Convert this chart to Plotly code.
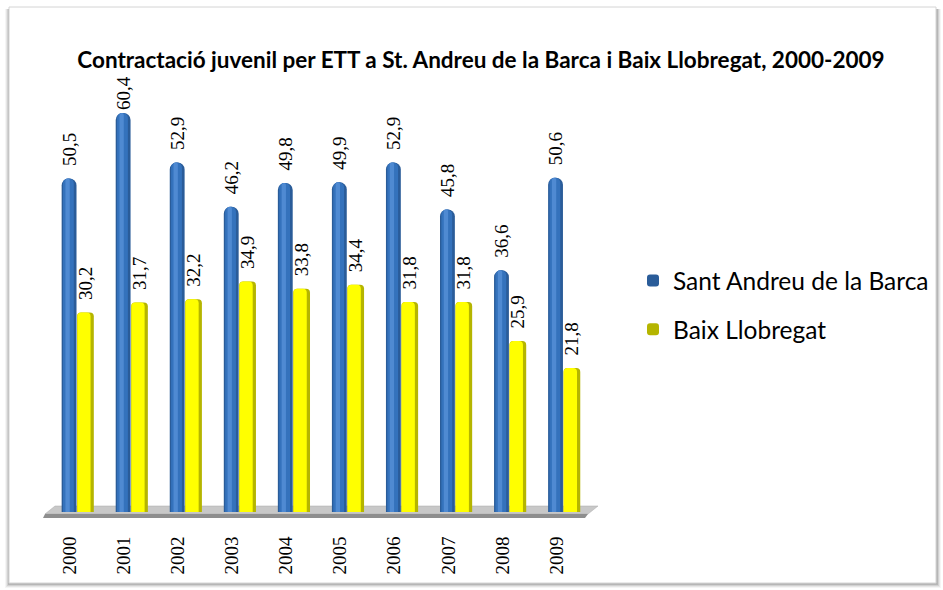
import plotly.graph_objects as go

W, H = 943, 590

years = ["2000", "2001", "2002", "2003", "2004", "2005", "2006", "2007", "2008", "2009"]
sant_andreu = [50.5, 60.4, 52.9, 46.2, 49.8, 49.9, 52.9, 45.8, 36.6, 50.6]
baix_llobregat = [30.2, 31.7, 32.2, 34.9, 33.8, 34.4, 31.8, 31.8, 25.9, 21.8]

title_text = "Contractació juvenil per ETT a St. Andreu de la Barca i Baix Llobregat, 2000-2009"
series_names = ["Sant Andreu de la Barca", "Baix Llobregat"]


def fx(p):
    return p / W


def fy(p):
    return 1 - p / H


def fmt(v, top=58):
    # labels of very tall bars sit closer to the bar so they stay clear of the title
    pad = "" if v > top else "\u00a0\u00a0"
    return pad + f"{v:.1f}".replace(".", ",")


xpos = list(range(len(years)))

fig = go.Figure()

label_font = dict(family="Liberation Serif", size=19, color="black")

# Blue cylinders (base + shading layers)
fig.add_trace(go.Bar(
    x=xpos, y=sant_andreu, name=series_names[0], legendgroup="a",
    offset=-0.155, width=0.275,
    marker=dict(color="#2A5C99", cornerradius="50%", line=dict(width=0)),
    text=[fmt(v) for v in sant_andreu], textposition="outside", textangle=-90,
    textfont=label_font, constraintext="none", cliponaxis=False,
    hoverinfo="skip",
))
fig.add_trace(go.Bar(
    x=xpos, y=sant_andreu, showlegend=False, legendgroup="a",
    offset=-0.13, width=0.2,
    marker=dict(color="#3472BC", cornerradius="50%", line=dict(width=0)),
    hoverinfo="skip",
))
fig.add_trace(go.Bar(
    x=xpos, y=sant_andreu, showlegend=False, legendgroup="a",
    offset=-0.085, width=0.08,
    marker=dict(color="#4F8AD2", cornerradius="50%", line=dict(width=0)),
    hoverinfo="skip",
))

# Yellow cylinders
fig.add_trace(go.Bar(
    x=xpos, y=baix_llobregat, name=series_names[1], legendgroup="b",
    offset=0.13, width=0.31,
    marker=dict(color="#B5B500", cornerradius=4, line=dict(width=0)),
    text=[fmt(v) for v in baix_llobregat], textposition="outside", textangle=-90,
    textfont=label_font, constraintext="none", cliponaxis=False,
    hoverinfo="skip",
))
fig.add_trace(go.Bar(
    x=xpos, y=baix_llobregat, showlegend=False, legendgroup="b",
    offset=0.135, width=0.245,
    marker=dict(color="#FFFF00", cornerradius=4, line=dict(width=0)),
    hoverinfo="skip",
))

shapes = []
# Frame shadow
for i, a in enumerate([0.04, 0.06, 0.09, 0.13]):
    d = 4 - i
    shapes.append(dict(type="rect", xref="paper", yref="paper",
                       x0=fx(9 - d), x1=fx(937 + d), y0=fy(584 + d), y1=fy(9),
                       fillcolor=f"rgba(0,0,0,{a})", line=dict(width=0), layer="below"))
shapes.append(dict(type="rect", xref="paper", yref="paper",
                   x0=fx(9), x1=fx(936), y0=fy(583), y1=fy(7),
                   fillcolor="white", line=dict(color="#D4D4D4", width=1), layer="below"))

# Floor (3D platform)
def path(pts):
    s = "M " + " L ".join(f"{fx(a)},{fy(b)}" for a, b in pts) + " Z"
    return s

shapes.append(dict(type="path", xref="paper", yref="paper",
                   path=path([(55, 506), (598, 506), (588, 514), (45, 514)]),
                   fillcolor="#C8C8C8", line=dict(color="#AAAAAA", width=0.5), layer="below"))
shapes.append(dict(type="path", xref="paper", yref="paper",
                   path=path([(45, 514), (588, 514), (585, 518), (43, 518)]),
                   fillcolor="#8E8E8E", line=dict(width=0), layer="below"))

fig.update_layout(
    width=W, height=H,
    margin=dict(l=0, r=0, t=0, b=0, autoexpand=False),
    paper_bgcolor="white",
    plot_bgcolor="rgba(0,0,0,0)",
    barmode="overlay",
    shapes=shapes,
    title=dict(text=title_text, x=fx(481), xanchor="center", y=fy(60), yanchor="middle",
               font=dict(family="Lato", size=22.5, color="black", weight="bold")),
    xaxis=dict(domain=[fx(43), fx(583.5)], range=[-0.5, 9.5],
               tickvals=xpos, ticktext=years, tickangle=-90,
               tickfont=dict(family="Liberation Serif", size=19, color="black"),
               ticks="outside", ticklen=16, tickcolor="rgba(0,0,0,0)",
               showline=False, showgrid=False, zeroline=False, fixedrange=True,
               automargin=False),
    yaxis=dict(domain=[fy(512), fy(49.6)], range=[0, 70], visible=False,
               showgrid=False, zeroline=False, fixedrange=True, automargin=False),
    legend=dict(x=fx(633), xanchor="left", y=fy(258), yanchor="top",
                font=dict(family="Lato", size=24.5, color="black"),
                tracegroupgap=14, bgcolor="rgba(0,0,0,0)"),
    showlegend=True,
)

fig.write_html(
    "out.html",
    config={"displayModeBar": False},
    post_script="document.body.style.margin='0';document.body.style.padding='0';",
)
